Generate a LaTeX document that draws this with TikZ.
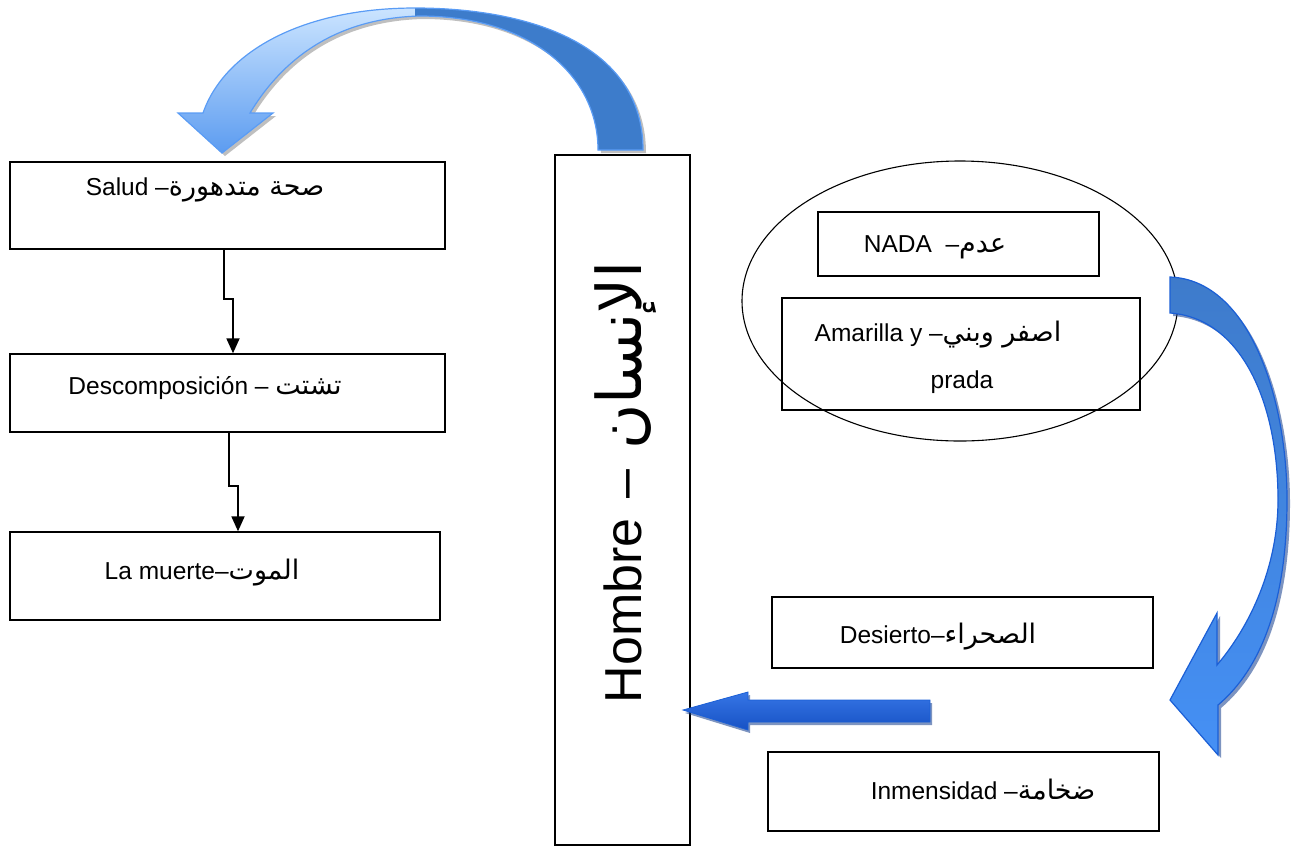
\documentclass[tikz,border=0pt]{standalone}
\usepackage{fontspec}
\setmainfont{Liberation Sans}
\newfontfamily\arabicfont[Script=Arabic,Scale=1.1]{DejaVu Sans}
\TeXXeTstate=1
\usetikzlibrary{shapes.geometric,arrows.meta,calc}
\newcommand\artxt[1]{{\arabicfont\beginR #1\endR}}
\definecolor{arcLight}{HTML}{CBE4FF}
\definecolor{arcMid}{HTML}{5C9CF0}
\definecolor{arcDark}{HTML}{3D7CCB}
\definecolor{arcEdge}{HTML}{5A9CF5}
\definecolor{blkTop}{HTML}{3E7BCB}
\definecolor{blkBot}{HTML}{4590F5}
\definecolor{blkEdge}{HTML}{1B5FD6}
\definecolor{barTop}{HTML}{3676E6}
\definecolor{barBot}{HTML}{1751C4}
\definecolor{shadowBlue}{HTML}{123C8C}
\begin{document}
\begin{tikzpicture}[x=1pt,y=-1pt,
  box/.style={draw, line width=1.4pt, rectangle, inner sep=0pt},
  lbl/.style={font=\fontsize{24.5}{28}\selectfont, inner sep=0pt, anchor=center},
  flow/.style={-{Triangle[length=15pt,width=13pt]}, line width=1.8pt},
  ashadow/.style={fill=shadowBlue, opacity=0.55},
  toparc/.style={insert path={(643,150) .. controls (643,45) and (530,8) .. (415,8)
    .. controls (305,8) and (225,50) .. (203,113) -- (178,113) -- (222,153) -- (273,113) -- (250,113)
    .. controls (285,55) and (340,18) .. (420,16) .. controls (530,16) and (598,75) .. (598,150) -- cycle}},
  rightarc/.style={insert path={(1170,277) .. controls (1250,280) and (1287,400) .. (1287,500)
    .. controls (1287,600) and (1262,668) .. (1218,705) -- (1218,755) -- (1170,700) -- (1217,613) -- (1217,665)
    .. controls (1255,620) and (1278,560) .. (1278,500) .. controls (1278,400) and (1240,318) .. (1170,313) -- cycle}},
]
\useasboundingbox (0,0) rectangle (1297,847);

% left column of boxes
\node[box, minimum width=435, minimum height=87] (salud) at (227.5,205.5) {};
\node[box, minimum width=435, minimum height=78] (decomp) at (227.5,393) {};
\node[box, minimum width=430, minimum height=88] (muerte) at (225,576) {};
\node[lbl] (saludT) at (205,190) {Salud –\artxt{صحة متدهورة}};
\node[lbl] (decompT) at (205,388) {Descomposición – \artxt{تشتت}};
\node[lbl] (muerteT) at (202,573) {La muerte–\artxt{الموت}};

% stepped connectors
\draw[flow] ($(salud.south)+(-3.5,0)$) -- ++(0,49) -- ++(9,0) -- ($(decomp.north)+(5.5,0)$);
\draw[flow] ($(decomp.south)+(1.5,0)$) -- ++(0,53) -- ++(9,0) -- ($(muerte.north)+(13,0)$);

% central tall box
\node[box, minimum width=135, minimum height=690] (hombre) at (622.5,500) {};
\node[inner sep=0pt, rotate=90, font=\fontsize{52}{60}\selectfont] (hombreT) at (626,482)
  {Hombre\hspace{20pt}–\hspace{20pt}{\fontsize{56}{60}\selectfont\artxt{الإنسان}}};

% ellipse with its two boxes
\node[draw, ellipse, line width=1.1pt, minimum width=436, minimum height=280, inner sep=0pt] (cloud) at (960,301) {};
\node[box, minimum width=281, minimum height=64] (nada) at (958.5,244) {};
\node[box, minimum width=358, minimum height=112] (amar) at (961,354) {};
\node[lbl] (nadaT) at (935,247) {NADA \ –\artxt{عدم}};
\node[lbl] (amarT) at (938,335) {Amarilla y –\artxt{اصفر وبني}};
\node[lbl] (pradaT) at (962,382) {prada};

% right-hand boxes
\node[box, minimum width=381, minimum height=71] (desierto) at (962.5,632.5) {};
\node[box, minimum width=391, minimum height=79] (inmens) at (963.5,791.5) {};
\node[lbl] (desiertoT) at (938,637) {Desierto–\artxt{الصحراء}};
\node[lbl] (inmensT) at (983,790) {Inmensidad –\artxt{ضخامة}};

% curved arrow over the top: light left half, dark right half
\begin{scope}[shift={(3,3)}]
\path[fill=gray, opacity=0.5, toparc];
\end{scope}
\begin{scope}
\clip (0,0) rectangle (415,200);
\path[top color=arcLight, bottom color=arcMid, toparc];
\end{scope}
\begin{scope}
\clip (415,0) rectangle (700,200);
\path[fill=arcDark, toparc];
\end{scope}
\path[draw=arcEdge, line width=1.2pt, toparc];

% curved arrow on the right
\begin{scope}[shift={(3,3)}]
\path[ashadow, rightarc];
\end{scope}
\path[top color=blkTop, bottom color=blkBot, draw=blkEdge, line width=1.2pt, rightarc];

% straight block arrow into the central box
\path[ashadow] (932,703) -- (750,703) -- (750,695) -- (685,713) -- (750,733) -- (750,725) -- (932,725) -- cycle;
\path[top color=barTop, bottom color=barBot, draw=blkEdge, line width=0.8pt]
  (930,700) -- (748,700) -- (748,692) -- (683,710) -- (748,730) -- (748,722) -- (930,722) -- cycle;
\end{tikzpicture}
\end{document}
